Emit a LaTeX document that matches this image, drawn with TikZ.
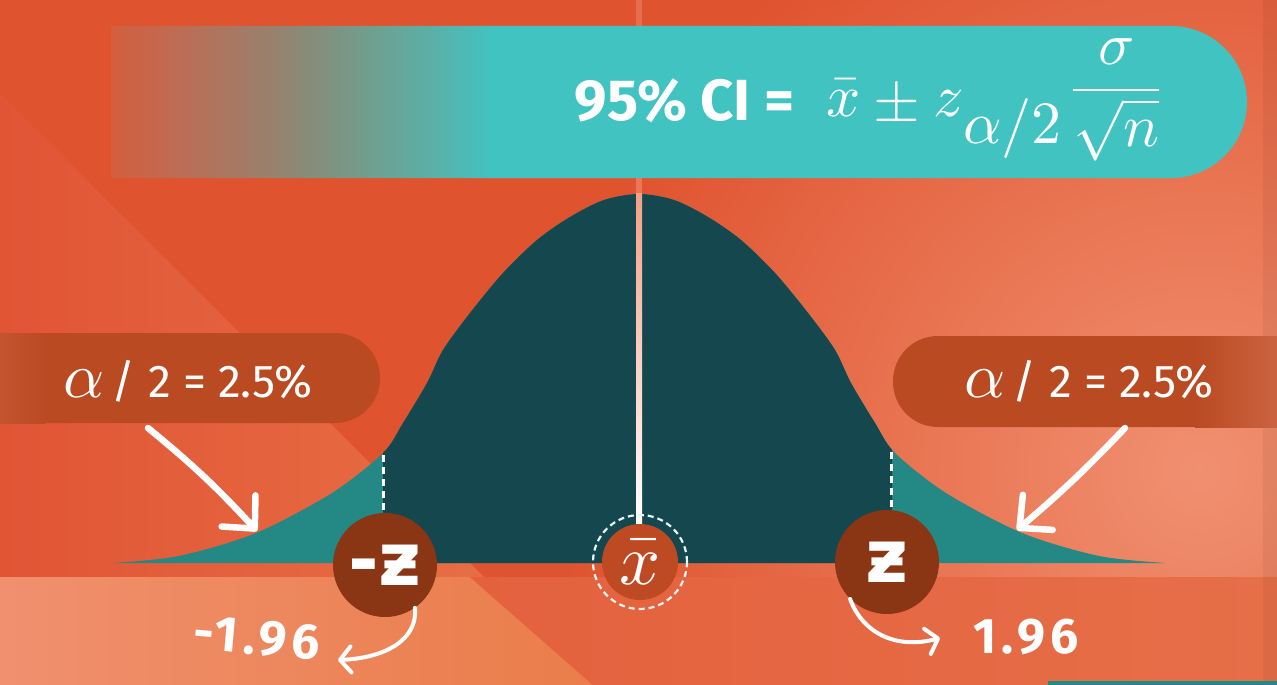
\documentclass[tikz,border=0pt]{standalone}
\usepackage{unicode-math}
\setmainfont{Fira Sans}
\setmathfont{Latin Modern Math}
\newfontfamily\zfont{DejaVu Sans}
\usetikzlibrary{arrows.meta}
\definecolor{bgred}{HTML}{E0532F}
\definecolor{salmon}{HTML}{F09070}
\definecolor{bandL}{HTML}{F0906E}
\definecolor{bandO}{HTML}{EA7D4A}
\definecolor{bandA}{HTML}{E4613E}
\definecolor{bandB}{HTML}{EE8A6A}
\definecolor{bandC}{HTML}{E66F48}
\definecolor{wedgeL}{HTML}{E15535}
\definecolor{wedgeR}{HTML}{E76E44}
\definecolor{bannerteal}{HTML}{41C3C1}
\definecolor{fadeA}{HTML}{D45E3E}
\definecolor{fadeB}{HTML}{BE6C55}
\definecolor{fadeC}{HTML}{9A806C}
\definecolor{fadeD}{HTML}{8A8A78}
\definecolor{fadeE}{HTML}{6FA090}
\definecolor{fadeF}{HTML}{55B4AD}
\definecolor{darkteal}{HTML}{15474F}
\definecolor{lightteal}{HTML}{248884}
\definecolor{zbrown}{HTML}{8A3513}
\definecolor{xbarc}{HTML}{BD4A22}
\definecolor{boxc}{HTML}{B94A22}
\definecolor{boxleft}{HTML}{C35430}
\definecolor{boxlight}{HTML}{CB6341}
\definecolor{linepink}{HTML}{F2A088}
\definecolor{ringc}{HTML}{E8F4F4}
\pgfdeclarehorizontalshading{bannerfade}{100bp}{color(0bp)=(fadeA); color(25bp)=(fadeA); color(28bp)=(fadeB); color(31.9bp)=(fadeC); color(33.5bp)=(fadeD); color(36.6bp)=(fadeE); color(39.7bp)=(fadeF); color(41.8bp)=(bannerteal); color(100bp)=(bannerteal)}
\begin{document}
\begin{tikzpicture}[x=1pt,y=-1pt,
  lbl/.style={text=white, font=\fontsize{46}{50}\selectfont, inner sep=0pt},
  num/.style={text=white, font=\fontsize{50}{54}\selectfont\bfseries\addfontfeature{LetterSpace=10}, inner sep=0pt},
  zcirc/.style={circle, fill=zbrown, minimum size=104pt, inner sep=0pt, text=white, font=\zfont\bfseries\fontsize{74}{74}\selectfont},
  bigarrow/.style={white, line width=6.5pt, line cap=round, -{Straight Barb[round,length=24pt,width=46pt]}},
  smallarrow/.style={white, line width=4pt, line cap=round, -{Straight Barb[round,length=11pt,width=26pt]}},
  taildash/.style={white, line width=3pt, dash pattern=on 7pt off 5pt},
  bellcurve/.style={insert path={plot[smooth] coordinates {(113,563) (179,556) (256,533) (332,493) (383,453) (403,423) (427,383) (443,350) (470,313) (503,273) (537,240) (570,217) (604,200) (639,194) (674,200) (708,217) (741,240) (775,273) (808,313) (835,350) (851,383) (875,423) (895,453) (946,493) (1022,533) (1099,556) (1165,563)}}}
]
\useasboundingbox (0,0) rectangle (1277,685);
% background
\fill[bgred] (0,0) rectangle (1277,685);
\begin{scope}
  \clip (0,0) rectangle (1277,577);
  \shade[inner color=salmon, outer color=bgred] (1200,470) circle (640);
\end{scope}
\shade[left color=wedgeL, right color=wedgeR] (0,93) -- (484,577) -- (0,577) -- cycle;
\shade[left color=bandL, right color=bandO] (0,577) -- (470,577) -- (593,685) -- (0,685) -- cycle;
\shade[left color=bandA, middle color=bandB, right color=bandC] (470,577) -- (1277,577) -- (1277,685) -- (593,685) -- cycle;
\fill[black, opacity=0.05] (1263,0) rectangle (1277,685);
\fill[lightteal] (1048,681) rectangle (1277,685);
% faint centre line above banner
\fill[linepink, opacity=0.35] (636,0) rectangle (642,26);
% banner
\shade[shading=bannerfade] (111,26) -- (1171,26) .. controls (1213,26) and (1247,60) .. (1247,102) .. controls (1247,144) and (1213,178) .. (1171,178) -- (111,178) -- cycle;
\node[text=white, font=\fontsize{58}{60}\selectfont\bfseries, inner sep=0pt, anchor=base east] (citext) at (795,120) {95\% CI =};
\node[text=white, font=\fontsize{60}{62}\selectfont, inner sep=0pt, anchor=base west] (cimath) at (826,116) {$\bar{x}\pm z\raisebox{-0.45em}{$\alpha/2$}\,\raisebox{0.18em}{$\dfrac{\sigma}{\sqrt{n}}$}$};
% bell curve
\fill[lightteal, bellcurve] -- cycle;
\begin{scope}
  \clip (383,0) rectangle (892,685);
  \fill[darkteal, bellcurve] -- cycle;
\end{scope}
% centre line
\fill[linepink, opacity=0.45] (636,178) rectangle (642,194);
\shade[top color=linepink, bottom color=white] (636,193) rectangle (642,524);
% label boxes
\fill[boxc] (335,333) .. controls (360,333) and (380,353) .. (380,378) .. controls (380,403) and (360,423) .. (335,423) -- (0,423) -- (0,333) -- cycle;
\shade[left color=boxleft, right color=boxc] (0,333) rectangle (45,423);
\fill[boxc] (938,336) -- (1277,336) -- (1277,427) -- (938,427) .. controls (913,427) and (893,407) .. (893,381.5) .. controls (893,356) and (913,336) .. (938,336) -- cycle;
\shade[left color=boxc, right color=boxlight] (1195,336) rectangle (1277,427);
\node[lbl] (llabel) at (188,381) {{\fontsize{64}{64}\selectfont$\alpha$}\,/ 2 = 2.5\%};
\node[lbl] (rlabel) at (1089,381) {{\fontsize{64}{64}\selectfont$\alpha$}\,/ 2 = 2.5\%};
% circles
\node[zcirc] (mz) at (385,565) {-ƶ};
\node[zcirc] (pz) at (887,562) {ƶ};
\node[circle, draw=ringc, line width=2.2pt, dash pattern=on 6pt off 4pt, minimum size=94pt, inner sep=0pt] (xbring) at (640,562) {};
\node[circle, fill=xbarc, minimum size=76pt, inner sep=0pt, text=white, font=\fontsize{72}{72}\selectfont] (xb) at (640,562) {$\bar{x}$};
% dashed tail markers
\coordinate (ldash) at (383,455);
\coordinate (rdash) at (891,452);
\draw[taildash] (ldash) -- (ldash |- mz.north);
\draw[taildash] (rdash) -- (rdash |- pz.north);
% arrows to the tails
\coordinate (lstart) at (148,428);
\coordinate (ltip) at (257,531);
\coordinate (rstart) at (1125,428);
\coordinate (rtip) at (1017,530);
\draw[bigarrow] (lstart) to[bend left=4] (ltip);
\draw[bigarrow] (rstart) to[bend left=3] (rtip);
% numbers
\node[num, rotate=-5] (lnum) at (257,638) {-1.96};
\node[num] (rnum) at (1026,637) {1.96};
\coordinate (lend) at (338,660);
\coordinate (rend) at (940,638);
\draw[smallarrow] (mz.-55) .. controls (418,640) and (385,658) .. (lend);
\draw[smallarrow] (pz.-135) .. controls (862,632) and (895,650) .. (rend);
\end{tikzpicture}
\end{document}
